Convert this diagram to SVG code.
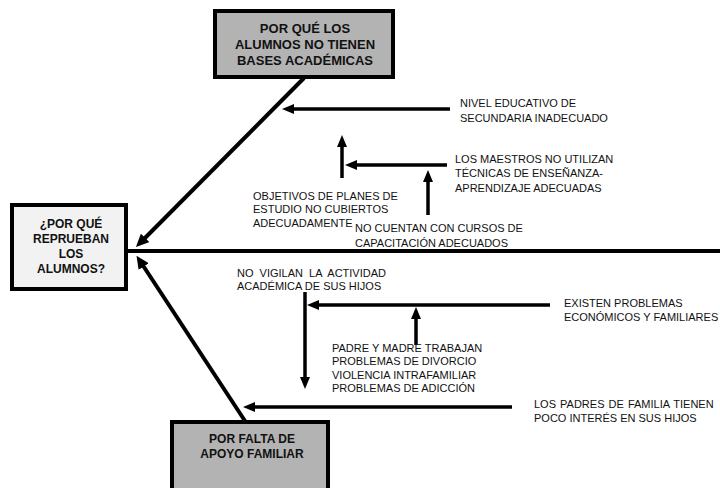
<svg xmlns="http://www.w3.org/2000/svg" width="720" height="488" viewBox="0 0 720 488">
<style>
.box{stroke:#000;stroke-width:4}
.dark{fill:#b3b3b3}
.light{fill:#f2f2f2}
.bt{font-family:"Liberation Sans",Arial,sans-serif;font-weight:bold;text-anchor:middle;fill:#111}
.t{font-family:"Liberation Sans",Arial,sans-serif;font-size:11px;fill:#111}
.ln{stroke:#000;stroke-width:4;fill:none}
.ar{stroke:#000;stroke-width:4;fill:none;marker-end:url(#ah)}
.ar2{stroke:#000;stroke-width:3.5;fill:none;marker-end:url(#ah2)}
</style>
<defs>
<marker id="ah" markerUnits="userSpaceOnUse" markerWidth="13" markerHeight="12" refX="3" refY="6" orient="auto">
<path d="M0,0 L13,6 L0,12 z" fill="#000"/>
</marker>
<marker id="ah2" markerUnits="userSpaceOnUse" markerWidth="12" markerHeight="10" refX="3" refY="5" orient="auto">
<path d="M0,0 L12,5 L0,10 z" fill="#000"/>
</marker>
</defs>
<rect width="720" height="488" fill="#fff"/>
<g id="connectors">
<line class="ln" x1="128" y1="251" x2="720" y2="251"/>
<line class="ar" x1="304" y1="78" x2="143" y2="240"/>
<line class="ar" x1="245" y1="421" x2="142" y2="264"/>
<line class="ar2" x1="450" y1="109" x2="291" y2="109"/>
<line class="ar2" x1="342" y1="178" x2="342" y2="144"/>
<line class="ar2" x1="447" y1="165" x2="354" y2="165"/>
<line class="ar2" x1="428" y1="215" x2="428" y2="179"/>
<line class="ar2" x1="550" y1="305" x2="316" y2="305"/>
<line class="ar2" x1="305" y1="292" x2="305" y2="380"/>
<line class="ar2" x1="416" y1="345" x2="416" y2="316"/>
<line class="ar2" x1="512" y1="407" x2="252" y2="407"/>
</g>
<g id="node-top">
<rect class="box dark" x="215" y="11" width="178" height="66"/>
<text class="bt" font-size="13" x="305" y="33">POR QUÉ LOS</text>
<text class="bt" font-size="13" x="305" y="49">ALUMNOS NO TIENEN</text>
<text class="bt" font-size="13" x="305" y="65">BASES ACADÉMICAS</text>
</g>
<g id="node-main">
<rect class="box light" x="12" y="205" width="114" height="84"/>
<text class="bt" font-size="12" x="71" y="228">¿POR QUÉ</text>
<text class="bt" font-size="12" x="71" y="243">REPRUEBAN</text>
<text class="bt" font-size="12" x="71" y="258">LOS</text>
<text class="bt" font-size="12" x="71" y="273">ALUMNOS?</text>
</g>
<g id="node-bottom">
<rect class="box dark" x="172" y="422" width="156" height="80"/>
<text class="bt" font-size="12" x="252" y="443">POR FALTA DE</text>
<text class="bt" font-size="12" x="252" y="458">APOYO FAMILIAR</text>
</g>
<g id="cause-nivel">
<text class="t" x="460" y="107">NIVEL EDUCATIVO DE</text>
<text class="t" x="460" y="122">SECUNDARIA INADECUADO</text>
</g>
<g id="cause-maestros">
<text class="t" x="455" y="163">LOS MAESTROS NO UTILIZAN</text>
<text class="t" x="455" y="177">TÉCNICAS DE ENSEÑANZA-</text>
<text class="t" x="455" y="192">APRENDIZAJE ADECUADAS</text>
</g>
<g id="cause-objetivos">
<text class="t" x="253" y="200">OBJETIVOS DE PLANES DE</text>
<text class="t" x="253" y="213">ESTUDIO NO CUBIERTOS</text>
<text class="t" x="253" y="227">ADECUADAMENTE</text>
</g>
<g id="cause-cursos">
<text class="t" x="355" y="232">NO CUENTAN CON CURSOS DE</text>
<text class="t" x="355" y="247">CAPACITACIÓN ADECUADOS</text>
</g>
<g id="cause-vigilan">
<text class="t" x="237" y="277" word-spacing="3">NO VIGILAN LA ACTIVIDAD</text>
<text class="t" x="237" y="290">ACADÉMICA DE SUS HIJOS</text>
</g>
<g id="cause-existen">
<text class="t" x="564" y="307">EXISTEN PROBLEMAS</text>
<text class="t" x="564" y="321">ECONÓMICOS Y FAMILIARES</text>
</g>
<g id="cause-padre">
<text class="t" x="332" y="352">PADRE Y MADRE TRABAJAN</text>
<text class="t" x="332" y="365">PROBLEMAS DE DIVORCIO</text>
<text class="t" x="332" y="379">VIOLENCIA INTRAFAMILIAR</text>
<text class="t" x="332" y="392">PROBLEMAS DE ADICCIÓN</text>
</g>
<g id="cause-padres">
<text class="t" x="534" y="408" word-spacing="1">LOS PADRES DE FAMILIA TIENEN</text>
<text class="t" x="534" y="422">POCO INTERÉS EN SUS HIJOS</text>
</g>
</svg>
